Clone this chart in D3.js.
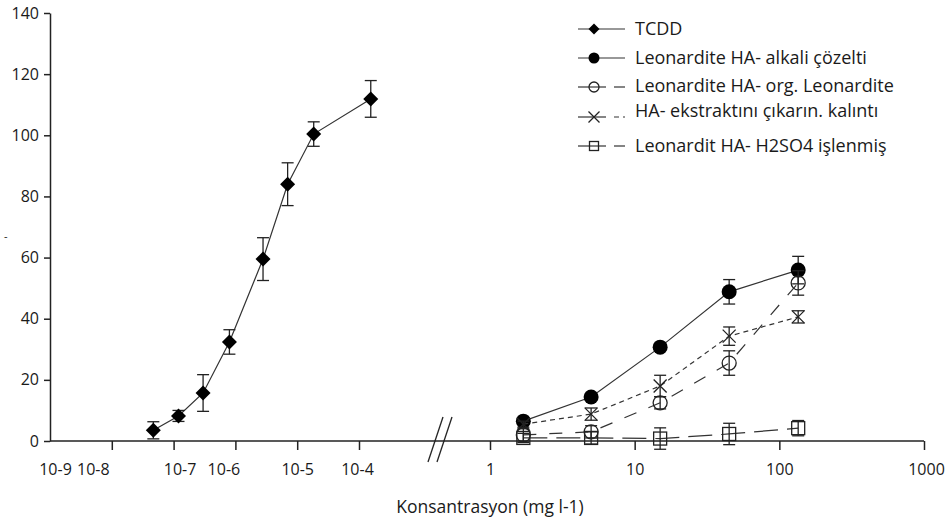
<!DOCTYPE html>
<html>
<head>
<meta charset="utf-8">
<script src="https://cdn.jsdelivr.net/npm/d3@7"></script>
<style>
  body { margin: 0; background: #fff; }
  text { font-family: "Open Sans", "Noto Sans", sans-serif; fill: #1a1a1a; }
</style>
</head>
<body>
<script>
// TCDD (left panel, molar)
var tcddConc = [4.7e-8, 1.2e-7, 3e-7, 8e-7, 2.8e-6, 7e-6, 1.85e-5, 1.55e-4];
var tcddVal  = [3.5, 8.2, 15.7, 32.4, 59.5, 84, 100.4, 111.9];
var tcddErr  = [2.8, 1.8, 6, 4, 7, 7, 4, 6];

// humic acids (right panel, mg l-1)
var haConc     = [1.7, 5, 15, 45, 135];
var alkaliVal  = [6.5, 14.4, 30.7, 48.8, 55.9];
var alkaliErr  = [1, 1, 1, 4, 4.5];
var orgVal     = [2.0, 3.0, 12.5, 25.5, 51.7];
var orgErr     = [2, 2, 2, 4, 4];
var residueVal = [5.5, 8.8, 18, 34.3, 40.6];
var residueErr = [1, 2, 3.5, 3, 2];
var h2so4Val   = [1.0, 1.0, 0.8, 2.3, 4.2];
var h2so4Err   = [1.5, 2, 3.5, 3.5, 2.5];

var leftTicks  = [1e-9, 1e-8, 1e-7, 1e-6, 1e-5, 1e-4];
var leftLabels = ["10-9", "10-8", "10-7", "10-6", "10-5", "10-4"];
var rightTicks = [1, 10, 100, 1000];
var yTicks = [0, 20, 40, 60, 80, 100, 120, 140];

var legendNames = ["TCDD", "Leonardite HA- alkali çözelti", "Leonardite HA- org. Leonardite",
                   "HA- ekstraktını çıkarın. kalıntı", "Leonardit HA- H2SO4 işlenmiş"];
var xTitle = "Konsantrasyon (mg l-1)";

var width = 946, height = 521;

var svg = d3.select("body").append("svg").attr("width", width).attr("height", height);

// scales
var y = d3.scaleLinear().domain([0, 140]).range([441, 13]);
var xL = d3.scaleLog().domain([1e-9, 1e-4]).range([50, 359]);
var xR = d3.scaleLog().domain([1, 1000]).range([490, 924]);

// y axis
var yAxis = svg.append("g").attr("transform", "translate(50,0)")
    .call(d3.axisLeft(y).tickValues(yTicks).tickSize(6).tickSizeOuter(0));
yAxis.selectAll("text").style("font-size", "16px").attr("dx", "-2");
yAxis.selectAll("path,line").attr("stroke", "#222").attr("stroke-width", 1.5);

svg.append("text").attr("x", 4).attr("y", 240).style("font-size", "11px").text("-");

// x axes (no domain line, baseline drawn separately)
var gL = svg.append("g").attr("transform", "translate(0," + y(0) + ")")
    .call(d3.axisBottom(xL).tickValues(leftTicks).tickSize(9)
      .tickFormat(function(d, i){ return leftLabels[i]; }));
var gR = svg.append("g").attr("transform", "translate(0," + y(0) + ")")
    .call(d3.axisBottom(xR).tickValues(rightTicks).tickSize(9).tickFormat(d3.format("d")));
[gL, gR].forEach(function(g){
  g.select(".domain").remove();
  g.selectAll("line").attr("stroke", "#222").attr("stroke-width", 1.5);
  g.selectAll("text").style("font-size", "16px").attr("dy", "1.35em");
});
gL.selectAll(".tick").filter(function(d){ return d === 1e-9; }).select("line").remove();
// labels in the left panel are packed in pairs, as in the original figure
var labelShift = [5, -19, 6, -12, 0, -2];
gL.selectAll(".tick text").attr("dx", function(d, i){ return labelShift[i]; });
gR.selectAll(".tick text").filter(function(d){ return d === 1000; }).attr("dx", 2);

svg.append("line")
    .attr("x1", xL.range()[0]).attr("x2", xR.range()[1])
    .attr("y1", y(0)).attr("y2", y(0))
    .attr("stroke", "#222").attr("stroke-width", 1.5);

// axis break
var bx = xR(1) - 55;
[0, 9].forEach(function(o){
  svg.append("line")
    .attr("x1", bx + o - 7).attr("y1", y(0) + 21)
    .attr("x2", bx + o + 8).attr("y2", y(0) - 24)
    .attr("stroke", "#222").attr("stroke-width", 1.3);
});

svg.append("text").attr("x", xR(1)).attr("y", 513).attr("text-anchor", "middle")
    .style("font-size", "17.5px").text(xTitle);

// marker drawing
function marker(g, type, cx, cy, s) {
  if (type === "diamond") {
    g.append("path").attr("d", "M" + cx + "," + (cy - s) + "L" + (cx + s) + "," + cy + "L" + cx + "," + (cy + s) + "L" + (cx - s) + "," + cy + "Z")
      .attr("fill", "#000");
  } else if (type === "dot") {
    g.append("circle").attr("cx", cx).attr("cy", cy).attr("r", s).attr("fill", "#000");
  } else if (type === "ring") {
    g.append("circle").attr("cx", cx).attr("cy", cy).attr("r", s).attr("fill", "none")
      .attr("stroke", "#222").attr("stroke-width", 1.3);
  } else if (type === "cross") {
    g.append("path").attr("d", "M" + (cx - s) + "," + (cy - s) + "L" + (cx + s) + "," + (cy + s) + "M" + (cx - s) + "," + (cy + s) + "L" + (cx + s) + "," + (cy - s))
      .attr("stroke", "#222").attr("stroke-width", 1.3);
  } else if (type === "square") {
    g.append("rect").attr("x", cx - s).attr("y", cy - s).attr("width", 2 * s).attr("height", 2 * s)
      .attr("fill", "none").attr("stroke", "#222").attr("stroke-width", 1.3);
  }
}

var series = [
  {x: xL, conc: tcddConc, val: tcddVal, err: tcddErr, type: "diamond", size: 7.5, dash: null, lw: 1.2},
  {x: xR, conc: haConc, val: alkaliVal, err: alkaliErr, type: "dot", size: 7.5, dash: null, lw: 1.2},
  {x: xR, conc: haConc, val: orgVal, err: orgErr, type: "ring", size: 7, dash: "13,13", lw: 1.2},
  {x: xR, conc: haConc, val: residueVal, err: residueErr, type: "cross", size: 6.5, dash: "5,4", lw: 1.2},
  {x: xR, conc: haConc, val: h2so4Val, err: h2so4Err, type: "square", size: 6.5, dash: "24,9", lw: 1.2}
];

var plot = svg.append("g");
series.forEach(function(s){
  var pts = s.conc.map(function(c, i){ return [s.x(c), y(s.val[i]), s.err[i], s.val[i]]; });
  var line = d3.line();
  plot.append("path").attr("d", line(pts.map(function(p){ return [p[0], p[1]]; })))
    .attr("fill", "none").attr("stroke", "#333").attr("stroke-width", s.lw)
    .attr("stroke-dasharray", s.dash);
  var g = plot.append("g");
  pts.forEach(function(p){
    var top = y(p[3] + p[2]), bot = y(Math.max(p[3] - p[2], -3));
    g.append("line").attr("x1", p[0]).attr("x2", p[0]).attr("y1", top).attr("y2", bot)
      .attr("stroke", "#222").attr("stroke-width", 1.3);
    [top, bot].forEach(function(yy){
      g.append("line").attr("x1", p[0] - 6).attr("x2", p[0] + 6).attr("y1", yy).attr("y2", yy)
        .attr("stroke", "#222").attr("stroke-width", 1.3);
    });
    marker(g, s.type, p[0], p[1], s.size);
  });
});

// legend
var legendRows = [29, 58, 87, 117, 146];
var legendTextY = [29, 58, 86, 111, 146];
var legendSizes = [5.5, 5.5, 5, 5.5, 4.5];
var lg = svg.append("g");
series.forEach(function(s, i){
  var ly = legendRows[i];
  if (s.dash) {
    lg.append("line").attr("x1", 578).attr("x2", 606).attr("y1", ly).attr("y2", ly)
      .attr("stroke", "#333").attr("stroke-width", 1.2);
    lg.append("line").attr("x1", 614).attr("x2", 625).attr("y1", ly).attr("y2", ly)
      .attr("stroke", "#333").attr("stroke-width", 1.2).attr("stroke-dasharray", s.dash === "5,4" ? "5,4" : null);
  } else {
    lg.append("line").attr("x1", 578).attr("x2", 625).attr("y1", ly).attr("y2", ly)
      .attr("stroke", "#333").attr("stroke-width", 1.2);
  }
  marker(lg, s.type, 594, ly, legendSizes[i]);
  lg.append("text").attr("x", 635).attr("y", legendTextY[i]).attr("dy", "0.35em")
    .style("font-size", "18px").text(legendNames[i]);
});
</script>
</body>
</html>
